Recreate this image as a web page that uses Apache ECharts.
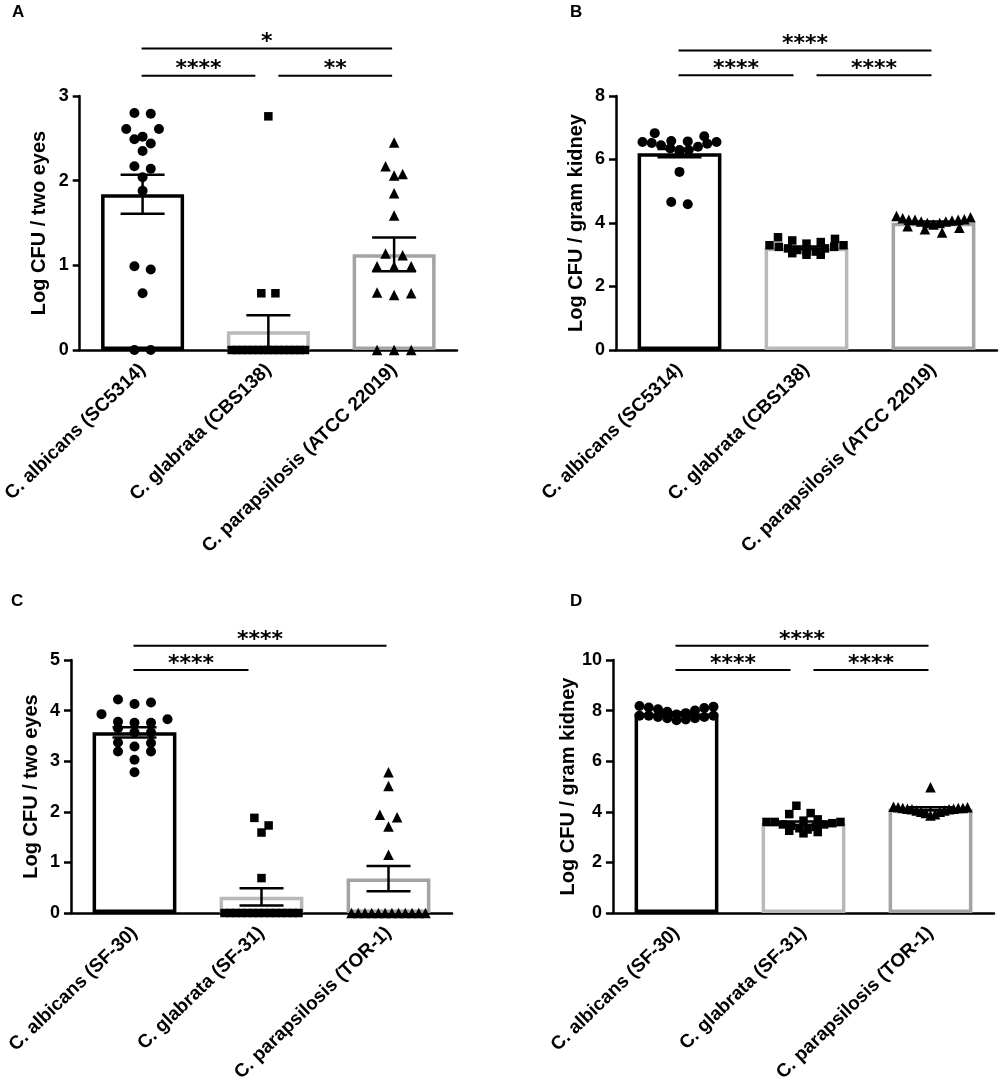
<!DOCTYPE html>
<html><head><meta charset="utf-8">
<script src="https://cdn.jsdelivr.net/npm/echarts@6/dist/echarts.min.js"></script>
<style>html,body{margin:0;padding:0;background:#fff}#c{width:1000px;height:1088px}</style>
</head><body><div id="c"></div>
<script>
// ---------- data ----------
const catsTop = ['C. albicans (SC5314)', 'C. glabrata (CBS138)', 'C. parapsilosis (ATCC 22019)'];
const catsBottom = ['C. albicans (SF-30)', 'C. glabrata (SF-31)', 'C. parapsilosis (TOR-1)'];
const yTitleEyes = 'Log CFU / two eyes';
const yTitleKidney = 'Log CFU / gram kidney';
const panelLetters = ['A', 'B', 'C', 'D'];

// Panel A (eyes)
const albA = [2.80, 2.79, 2.61, 2.61, 2.52, 2.49, 2.44, 2.35, 2.17, 2.14, 2.04, 1.88, 0.99, 0.95, 0.67, 0, 0];
const glaA = [2.76, 0.67, 0.67, 0, 0, 0, 0, 0, 0, 0, 0, 0, 0, 0, 0, 0, 0, 0];
const parA = [2.45, 2.17, 2.08, 2.06, 1.85, 1.59, 1.14, 1.12, 0.99, 0.99, 0.99, 0.68, 0.67, 0.65, 0, 0, 0];
const meanA = [1.84, 0.22, 1.13];
const semA = [0.23, 0.19, 0.20];
const sigA = [[0, 2, 3.56, '*'], [0, 1, 3.24, '****'], [1, 2, 3.24, '**']];

// Panel B (kidney)
const albB = [6.83, 6.73, 6.58, 6.57, 6.55, 6.55, 6.52, 6.50, 6.45, 6.40, 6.35, 6.30, 6.30, 6.25, 5.61, 4.66, 4.59];
const glaB = [3.55, 3.50, 3.45, 3.40, 3.35, 3.30, 3.30, 3.25, 3.25, 3.20, 3.20, 3.15, 3.10, 3.10, 3.05, 3.00, 3.00];
const parB = [4.22, 4.18, 4.15, 4.12, 4.10, 4.10, 4.10, 4.08, 4.05, 4.05, 4.00, 4.00, 3.95, 3.90, 3.85, 3.80, 3.70];
const meanB = [6.20, 3.22, 4.01];
const semB = [0.13, 0.04, 0.04];
const sigB = [[0, 2, 9.43, '****'], [0, 1, 8.65, '****'], [1, 2, 8.65, '****']];

// Panel C (eyes)
const albC = [4.22, 4.16, 4.13, 3.93, 3.83, 3.78, 3.76, 3.76, 3.65, 3.57, 3.57, 3.37, 3.36, 3.29, 3.19, 3.19, 3.03, 2.78];
const glaC = [1.88, 1.73, 1.59, 0.69, 0, 0, 0, 0, 0, 0, 0, 0, 0, 0, 0, 0, 0, 0];
const parC = [2.78, 2.51, 1.94, 1.89, 1.71, 1.15, 0, 0, 0, 0, 0, 0, 0, 0, 0, 0, 0, 0];
const meanC = [3.57, 0.32, 0.68];
const semC = [0.10, 0.17, 0.25];
const sigC = [[0, 2, 5.28, '****'], [0, 1, 4.80, '****']];

// Panel D (kidney)
const albD = [8.18, 8.15, 8.12, 8.10, 8.05, 8.00, 7.95, 7.90, 7.85, 7.80, 7.80, 7.80, 7.75, 7.75, 7.70, 7.70, 7.65, 7.62];
const glaD = [4.24, 3.95, 3.91, 3.70, 3.65, 3.60, 3.60, 3.60, 3.55, 3.50, 3.50, 3.45, 3.40, 3.35, 3.30, 3.25, 3.20, 3.15];
const parD = [4.97, 4.20, 4.18, 4.18, 4.15, 4.15, 4.15, 4.12, 4.12, 4.10, 4.10, 4.05, 4.05, 4.00, 4.00, 3.95, 3.90, 3.85];
const meanD = [7.89, 3.55, 4.12];
const semD = [0.04, 0.07, 0.06];
const sigD = [[0, 2, 10.56, '****'], [0, 1, 9.60, '****'], [1, 2, 9.60, '****']];

const yMaxes = [3, 8, 5, 10];
const yIntervals = [1, 2, 1, 2];

// ---------- layout / style ----------
const panels = [
  {cats: catsTop, yName: yTitleEyes, groups: [albA, glaA, parA], mean: meanA, sem: semA, sig: sigA},
  {cats: catsTop, yName: yTitleKidney, groups: [albB, glaB, parB], mean: meanB, sem: semB, sig: sigB},
  {cats: catsBottom, yName: yTitleEyes, groups: [albC, glaC, parC], mean: meanC, sem: semC, sig: sigC},
  {cats: catsBottom, yName: yTitleKidney, groups: [albD, glaD, parD], mean: meanD, sem: semD, sig: sigD}
];
const boxes = [
  {left: 76, top: 96, width: 381, height: 254, lx: 12, ly: 4},
  {left: 616, top: 96, width: 381, height: 254, lx: 570, ly: 4},
  {left: 71, top: 660, width: 381, height: 253, lx: 11, ly: 593},
  {left: 613, top: 660, width: 381, height: 253, lx: 570, ly: 593}
];
const barColors = ['#000000', '#b9b9b9', '#a3a3a3'];
const symbols = ['circle', 'rect', 'triangle'];
const symSizes = [10, 8.5, 10.5];
const FONT = '"Liberation Sans", Arial, sans-serif';

// GraphPad-like row swarm layout
function swarm(vals, idx, pxPerUnit, catPx, D) {
  const sorted = vals.slice().sort((a, b) => b - a);
  const rows = [];
  let cur = null;
  for (const v of sorted) {
    if (cur && (cur.start - v) * pxPerUnit < D * 0.8) cur.items.push(v);
    else { cur = {start: v, items: [v]}; rows.push(cur); }
  }
  const out = [];
  const maxW = 74;
  for (const r of rows) {
    const n = r.items.length;
    let s = D * 1.5;
    if (n > 1 && (n - 1) * s > maxW) s = maxW / (n - 1);
    // U-shaped order: highest values at the edges
    const slots = new Array(n);
    let l = 0, rr = n - 1;
    r.items.forEach((v, k) => { if (k % 2 === 0) slots[l++] = v; else slots[rr--] = v; });
    slots.forEach((v, k) => out.push([idx + (k - (n - 1) / 2) * s / catPx, v]));
  }
  return out;
}

const option = {
  animation: false,
  backgroundColor: '#fff',
  grid: [], xAxis: [], yAxis: [], series: [], graphic: []
};

panels.forEach((p, pi) => {
  const b = boxes[pi];
  option.grid.push({left: b.left, top: b.top, width: b.width, height: b.height, containLabel: false});
  option.xAxis.push({
    type: 'category', gridIndex: pi, data: p.cats,
    axisLine: {onZero: false, lineStyle: {color: '#000', width: 2.5}},
    axisTick: {alignWithLabel: true, length: 7, lineStyle: {color: '#000', width: 2.5}},
    axisLabel: {rotate: 44, margin: 17, color: '#000', fontSize: 19, fontWeight: 700, fontFamily: FONT},
    splitLine: {show: false}
  });
  option.xAxis.push({type: 'value', gridIndex: pi, min: -0.5, max: 2.5, show: false});
  option.yAxis.push({
    type: 'value', gridIndex: pi, min: 0, max: yMaxes[pi], interval: yIntervals[pi],
    name: p.yName, nameLocation: 'middle', nameGap: 30,
    nameTextStyle: {color: '#000', fontSize: 20, fontWeight: 700, fontFamily: FONT},
    axisLine: {show: true, onZero: false, lineStyle: {color: '#000', width: 2.5}},
    axisTick: {show: true, length: 7, lineStyle: {color: '#000', width: 2.5}},
    axisLabel: {margin: 11, color: '#000', fontSize: 18, fontWeight: 700, fontFamily: FONT},
    splitLine: {show: false}
  });
  const catAx = pi * 2, valAx = pi * 2 + 1;
  option.series.push({
    type: 'bar', xAxisIndex: catAx, yAxisIndex: pi, barWidth: '66%', z: 2,
    data: p.mean.map((v, i) => ({value: v, itemStyle: {color: '#fff', borderColor: barColors[i], borderWidth: 3.5}}))
  });
  const pxPerUnit = b.height / yMaxes[pi];
  const catPx = b.width / 3;
  p.groups.forEach((g, gi) => {
    option.series.push({
      type: 'scatter', xAxisIndex: valAx, yAxisIndex: pi, z: 3,
      symbol: symbols[gi], symbolSize: symSizes[gi],
      itemStyle: {color: '#000', opacity: 1},
      data: swarm(g, gi, pxPerUnit, catPx, symSizes[gi] + 1)
    });
  });
  option.series.push({
    type: 'custom', xAxisIndex: valAx, yAxisIndex: pi, z: 4, silent: true,
    data: p.mean.map((m, i) => [i, m, p.sem[i]]),
    renderItem(params, api) {
      const i = api.value(0), m = api.value(1), s = api.value(2);
      const t = api.coord([i, m + s]), bt = api.coord([i, Math.max(0, m - s)]);
      const hw = 22, st = {stroke: '#000', lineWidth: 2.5};
      return {type: 'group', children: [
        {type: 'line', shape: {x1: t[0], y1: t[1], x2: bt[0], y2: bt[1]}, style: st},
        {type: 'line', shape: {x1: t[0] - hw, y1: t[1], x2: t[0] + hw, y2: t[1]}, style: st},
        {type: 'line', shape: {x1: bt[0] - hw, y1: bt[1], x2: bt[0] + hw, y2: bt[1]}, style: st}
      ]};
    }
  });
  const sig = p.sig;
  option.series.push({
    type: 'custom', xAxisIndex: valAx, yAxisIndex: pi, z: 5, silent: true, clip: false,
    encode: {x: 0, y: 2},
    data: sig.map(d => [d[0], d[1], d[2]]),
    renderItem(params, api) {
      const d = sig[params.dataIndex];
      const a = api.coord([d[0], d[2]]), c = api.coord([d[1], d[2]]);
      let x1 = a[0] - 1, x2 = c[0] - 2;
      if (d[1] - d[0] === 1) { if (d[0] === 0) x2 = c[0] - 13; else x1 = a[0] + 10; }
      return {type: 'group', children: [
        {type: 'line', shape: {x1: x1, y1: a[1], x2: x2, y2: a[1]}, style: {stroke: '#000', lineWidth: 2}},
        {type: 'text', style: {text: d[3], x: (x1 + x2) / 2, y: a[1] + 5, align: 'center', verticalAlign: 'bottom',
          font: 'bold 22px "DejaVu Sans"', fill: '#000'}}
      ]};
    }
  });
  option.graphic.push({type: 'text', left: b.lx, top: b.ly,
    style: {text: panelLetters[pi], font: 'bold 17px ' + FONT, fill: '#000'}});
});

const chart = echarts.init(document.getElementById('c'), null, {renderer: 'canvas'});
chart.setOption(option);
</script></body></html>
